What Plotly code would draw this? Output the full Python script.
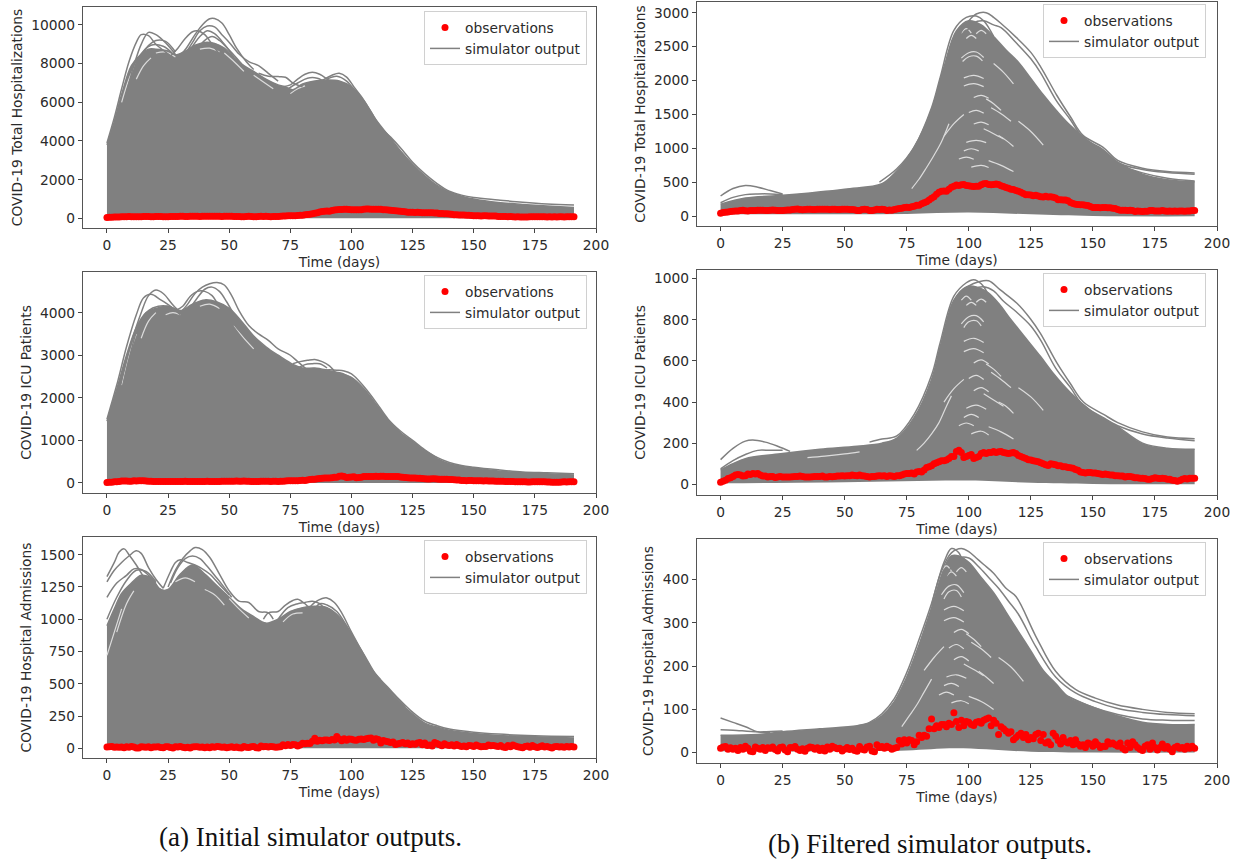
import plotly.graph_objects as go

# ---------- observations, one value per day ----------
days = list(range(192))
obs_total = [45,55,60,65,70,75,78,80,88,90, 82,78,85,88,88,90,90,90,88,88,
 90,92,90,88,88,85,90,95,95,100, 105,108,100,98,102,105,105,102,100,105,
 105,105,103,103,102,105,105,100,102,104, 105,104,100,100,98,85,88,100,105,100,
 85,88,95,105,100,105,100,85,95,90, 100,108,115,120,130,135,130,140,150,165,
 165,185,200,215,240,265,290,325,355,370, 375,370,400,430,445,460,455,465,470,455,
 450,445,440,445,445,465,480,485,470,465, 470,475,470,450,440,425,415,400,395,380,
 370,355,335,320,320,315,305,310,300,290, 285,295,285,290,280,270,245,245,240,240,
 230,205,190,180,175,170,170,165,160,145, 130,130,130,125,130,130,125,125,120,115,
 100,90,90,90,85,90,85,70,80,75, 70,75,75,85,85,80,80,80,85,80,
 75,80,75,80,75,80,80,75,80,80, 85,85]
obs_icu = [10,15,20,28,32,38,45,48,45,40, 42,50,48,52,50,52,45,40,40,35,
 38,38,33,35,38,36,35,36,36,37, 38,38,40,38,36,35,36,37,38,38,
 38,40,36,36,38,37,38,40,40,42, 40,42,42,45,43,42,45,42,40,38,
 36,38,38,40,42,40,42,38,42,40, 38,42,42,45,50,52,52,55,50,60,
 62,60,70,82,85,90,100,105,110,115, 115,118,125,135,135,160,165,155,130,135,
 140,145,125,130,135,150,155,150,155,155, 160,155,158,160,155,152,150,152,155,150,
 140,135,130,125,120,118,115,112,110,105, 100,95,92,100,98,95,90,90,85,85,
 82,80,78,72,68,60,58,55,58,58, 55,55,52,50,48,50,48,45,45,42,
 42,40,40,36,38,38,35,32,32,30, 30,28,25,25,28,32,30,28,30,28,
 25,25,20,18,15,18,25,28,26,30, 30,30]
obs_adm = [10,13,14,8,11,8,10,5,12,8, 15,10,3,2,13,10,8,12,5,11,
 10,13,7,4,12,13,6,2,12,11, 14,8,5,9,3,10,13,12,8,11,
 5,10,4,13,8,15,12,9,10,4, 8,12,7,10,5,3,14,8,6,13,
 15,4,2,18,12,14,10,15,12,8, 10,12,28,20,30,22,30,28,18,25,
 40,35,40,38,55,78,55,62,58,65, 65,60,68,65,92,72,58,75,62,72,
 70,65,63,70,72,68,75,78,80,62, 75,68,42,60,55,50,45,48,30,35,
 40,45,35,42,30,35,32,42,45,28, 42,22,25,18,45,38,28,20,35,25,
 22,28,18,30,20,15,18,12,22,20, 15,25,18,12,15,14,25,20,22,18,
 15,22,10,6,22,12,25,18,12,8, 5,15,18,8,22,12,6,12,20,10,
 14,8,2,12,15,10,12,8,15,10, 15,10]

# ---------- simulator ensemble: dense body outline + individually visible runs ----------
flat_low = ([0,191],[0,0])

L1_core_x = [0,3,6,10,14,17,20,25,28,32,36,40,44,48,52,56,60,65,70,73,76,80,85,90,95,100,105,110,115,120,125,130,135,140,145,150,160,170,180,191]
L1_core_y = [3800,5000,6400,7900,8500,8750,8750,8650,8450,8650,8950,9100,9050,8800,8300,7900,7600,7200,6900,6800,6650,6950,7100,7150,7100,6800,6100,5100,4300,3500,2800,2200,1700,1350,1150,1000,820,720,640,560]
L1_runs = [
 ([0,3,6,9,12,14,17,20,24,28],[3900,5200,6700,8100,9100,9500,9450,9000,8600,8200]),
 ([2,5,8,11,14,17,20,23,26,29],[3500,4900,6500,7900,9000,9620,9500,9200,8800,8300]),
 ([3,8,12,16,20,24,28],[3500,6000,7900,8800,9200,9150,8600]),
 ([5,9,13,18,23,27],[4800,6800,8300,8950,8900,8500]),
 ([26,29,32,35,37,40,43,46,50],[8400,8800,9300,9650,9700,9500,9000,8500,8000]),
 ([30,33,36,39,42,44,47,50,53,57,60],[8400,8900,9500,10000,10320,10330,10100,9500,8800,8100,7700]),
 ([32,35,38,41,44,47,50,54,58,62,66,70],[8500,9100,9700,9950,9900,9500,9100,8500,8100,7900,7500,7100]),
 ([34,38,41,44,48,52],[8700,9400,9700,9550,9000,8300]),
 ([36,40,43,46,50,55],[8600,9200,9400,9200,8700,8000]),
 ([62,66,70,73,76,80],[7500,7350,7330,7300,7000,6800]),
 ([72,75,78,81,84,87,90,93],[6800,6900,7200,7450,7550,7450,7200,6900]),
 ([74,78,82,86,90],[6700,7000,7250,7250,7000]),
 ([86,89,92,95,98,101,104,108,112,116,120,125,130,135,140,145,150,160,170,180,191],[7000,7200,7400,7500,7300,6800,6300,5500,4700,4200,3650,2900,2300,1800,1400,1200,1080,950,830,740,690]),
 ([90,94,98,102,106,110,114,118,122,126,130],[7200,7350,7100,6500,5800,5000,4300,3600,3000,2500,2050]),
]
L1_gaps = [([6,9,12],[6000,7200,8000]),([12,15,18],[7200,7900,8300]),([20,24,28],[8550,8600,8350]),
 ([38,42,46],[8750,8800,8600]),([48,52,56],[8550,8100,7600]),([60,64,68],[7400,7050,6700]),([75,78,81],[6450,6700,6850])]

L2_core_x = [0,4,8,12,16,20,25,30,35,40,45,50,55,60,65,70,75,80,85,90,95,100,105,110,115,120,125,130,135,140,145,150,160,170,180,191]
L2_core_y = [1450,2200,3000,3650,4000,4100,4150,4050,4200,4300,4250,4100,3800,3450,3200,3000,2820,2700,2700,2650,2580,2480,2220,1850,1470,1180,950,740,570,450,390,350,280,240,220,190]
L2_runs = [
 ([0,4,8,12,15,18,22,26,30],[1500,2300,3200,3950,4350,4430,4300,4150,3950]),
 ([2,6,10,14,17,20,23,27,31],[1500,2400,3300,4000,4400,4530,4450,4180,3950]),
 ([4,9,13,17,21,25,29],[1600,2900,3700,4050,4150,4150,4050]),
 ([28,31,34,37,40,43,46,49,53,57],[4050,4150,4380,4500,4500,4400,4150,3950,3650,3400]),
 ([30,33,36,39,42,45,48,51,54,58,62,66,70,75,78,82],[4000,4200,4450,4600,4680,4710,4650,4400,4050,3700,3500,3350,3150,3000,2850,2650]),
 ([34,37,40,43,46,49,53,57],[4100,4350,4550,4600,4500,4250,3850,3500]),
 ([76,79,82,85,88,91,94],[2800,2850,2880,2900,2850,2750,2550]),
 ([78,81,84,87,90],[2700,2780,2800,2800,2700]),
 ([88,91,94,97,100,103,106,110,115,120,125,130,135,140,145,150,160,170,180,191],[2650,2660,2650,2630,2560,2400,2200,1900,1500,1220,1000,780,600,480,410,370,310,260,240,220]),
 ([92,96,100,104,108,112,116,120,125,130,135],[2600,2580,2450,2250,1980,1680,1400,1180,970,760,590]),
]
L2_gaps = [([6,9,12],[2300,3000,3500]),([14,17,20],[3400,3800,4000]),([24,27,30],[3950,4000,3950]),
 ([38,42,46],[4150,4200,4100]),([52,56,60],[3700,3400,3150])]

L3_core_x = [0,3,6,10,14,18,22,25,30,35,40,45,50,55,60,65,70,75,80,85,90,95,100,105,110,115,120,125,130,135,140,150,160,175,191]
L3_core_y = [950,1080,1200,1280,1340,1320,1230,1230,1350,1420,1350,1260,1170,1080,1020,970,1000,1060,1090,1100,1090,1020,880,730,570,450,350,265,195,165,140,115,100,90,80]
L3_runs = [
 ([0,3,5,7,9,12,15,18,22],[1330,1440,1520,1545,1500,1420,1330,1270,1230]),
 ([0,3,6,9,12,14,17,20,23],[1290,1380,1440,1490,1530,1510,1400,1310,1240]),
 ([0,4,8,11,14,17,20],[1170,1280,1340,1390,1385,1340,1280]),
 ([0,4,8,12,16,20],[1000,1170,1300,1380,1370,1290]),
 ([23,26,28,30,33,36,39,42,46,50],[1240,1370,1440,1460,1440,1420,1390,1350,1270,1190]),
 ([25,28,31,34,36,39,42,46,50,54,58,62,66,68],[1250,1380,1470,1530,1555,1540,1480,1350,1220,1140,1130,1060,1050,1000]),
 ([26,29,32,35,38,41,44,47,51],[1280,1400,1470,1490,1470,1410,1340,1270,1170]),
 ([64,66,70,73,76,78,81,84,87],[1000,1050,1060,1110,1145,1155,1120,1060,1000]),
 ([70,74,78,81,84,87,90,93],[1000,1090,1120,1130,1140,1120,1060,1000]),
 ([82,85,88,90,93,96,100,104,108,112,116,120,125,130,135,140,150,160,175,191],[1070,1130,1160,1165,1130,1050,900,760,620,530,450,370,280,210,175,150,125,110,98,92]),
 ([84,87,90,94,98,102,106,110,114,118,122],[1050,1120,1110,1060,950,820,680,560,480,400,320]),
]
L3_gaps = [([0,3,6],[720,900,1080]),([4,8,11],[900,1120,1220]),([28,32,36],[1290,1320,1290]),
 ([40,44,48],[1230,1190,1110]),([50,54,58],[1160,1080,1010]),([72,76,80],[980,1040,1050])]

R1_low_x = [0,25,50,75,100,125,150,191]
R1_low_y = [30,30,30,35,55,30,5,0]
R1_core_x = [0,10,25,50,65,70,75,80,85,90,95,100,105,110,115,120,125,130,135,140,150,155,160,170,180,191]
R1_core_y = [180,270,310,400,480,630,850,1150,1570,2200,2730,2880,2820,2650,2450,2270,2030,1790,1570,1370,1060,950,800,620,540,510]
R1_runs = [
 ([64,71,78,85,88.5,94,99,103,106,110],[505,700,1020,1600,2050,2740,2930,2950,2880,2650]),
 ([92,96,100,103,107,110,113,119,125,129,135.5,141,146,154,160,170,180,191],[2300,2650,2880,2980,3000,2930,2840,2640,2415,2199,1780,1463,1193,1020,825,710,660,640]),
 ([94,98,102,106,110,113,119,125,129,135,141,146,154,160,170,180,191],[2300,2650,2850,2880,2820,2780,2560,2320,2110,1720,1420,1160,985,790,690,645,620]),
 ([0,5,10,15,20,25],[300,410,455,430,380,330]),
 ([0,5,10,15,20,25],[200,280,320,330,330,320]),
 ([150,160,170,180,191],[960,760,640,560,520]),
]
R1_gaps = [
 ([77,80,83,86,89,92],[410,550,720,900,1100,1365]),
 ([97,100,103,106],[2330,2410,2420,2340]),([97.5,100,103,105.5],[2280,2350,2360,2290]),
 ([97,99,101],[2700,2764,2700]),([99,101,103],[2620,2666,2620]),([103,105,107],[2690,2740,2690]),
 ([98,102,106],[2040,2077,2030]),([98,102,106],[1920,1954,1910]),([102,105,108],[1750,1782,1740]),
 ([107,110,113],[1730,1660,1560]),([100,103,106],[1530,1561,1520]),([109,113,117],[1600,1512,1400]),
 ([102,105,108],[1360,1389,1350]),([106,110,114],[1290,1218,1140]),([99,103,107],[1090,1119,1085]),
 ([98,101,104],[965,996,965]),([101,105,108],[725,751,720]),([108,113,118],[820,751,660]),
 ([96,99,102],[845,873,840]),([112,115,118],[1190,1119,1030]),([90,94,98],[1180,1365,1500]),
 ([120,125,130],[1400,1250,1050]),([110,114,118],[2250,2120,1950]),
]

R2_low_x = [0,50,100,125,150,191]
R2_low_y = [5,10,18,8,2,0]
R2_core_x = [0,5,10,25,40,55,65,71,78,85,88.5,94,99,103,108,112,117,122,129,134,141,149,154,160,170,180,191]
R2_core_y = [70,100,125,150,170,185,200,225,325,510,670,895,960,960,930,880,800,725,620,540,445,360,320,280,200,175,170]
R2_runs = [
 ([60,65,71,78,85,88.5,94,99,102,105,108,111],[205,220,235,340,530,690,915,980,995,975,920,830]),
 ([92,96,100,104,108,112.7,119.4,124.8,128.8,135.5,140.9,146.2,154.3,160,170,180,191],[840,925,965,985,990,945,880,805,735,590,490,400,340,300,255,230,222]),
 ([94,98,102,106,110,114,119,125,129,135,141,146,154,160,170,180,191],[860,920,950,960,940,890,840,770,700,565,470,385,325,285,245,225,212]),
 ([0,5,10,13,18,23,28],[120,175,210,215,205,185,160]),
 ([0,5,10,15,20,25],[75,115,145,165,165,165]),
]
R2_gaps = [
 ([79,82,85,88,91,93],[165,200,245,300,380,430]),
 ([97,100,103,106],[780,815,820,790]),([98,100,103,105],[762,790,795,770]),
 ([97,99,101],[895,915,895]),([99,101,103],[870,885,870]),([103,105,107],[885,900,885]),
 ([98,102,106],[695,710,690]),([98,102,106],[645,660,640]),([102,105,108],[590,605,585]),
 ([107,110,113],[585,560,525]),([100,103,106],[515,530,510]),([109,113,117],[545,510,470]),
 ([102,105,108],[455,470,450]),([106,110,114],[440,410,380]),([99,103,107],[370,385,365]),
 ([98,101,104],[325,340,325]),([101,105,108],[245,258,240]),([108,113,118],[280,255,220]),
 ([96,99,102],[285,298,285]),([112,115,118],[400,380,345]),([90,94,98],[400,465,510]),
 ([120,125,130],[470,425,360]),([35,42,50,56],[130,137,148,158]),
]

R3_low_x = [0,50,75,95,125,150,191]
R3_low_y = [3,3,5,10,2,0,0]
R3_core_x = [0,15,25,40,55,60,65,70,75,80,85,90,93,96,100,105,110,115,120,125,130,135,140,150,160,170,180,191]
R3_core_y = [40,42,48,55,62,68,85,118,175,250,335,425,455,455,440,405,370,325,280,235,190,160,130,105,85,70,65,65]
R3_runs = [
 ([55,60,65,70,75,80,85,90,93,96,98],[62,70,90,125,185,262,345,440,472,462,430]),
 ([85,89,93,97,100,103,106,110,115,119,127,135,143,151,160,170,180,191],[340,420,462,472,465,450,435,415,380,361,269,188,146,126,110,100,93,90]),
 ([88,92,96,100,104,108,112,116,120,127,135,143,151,160,170,180,191],[370,420,450,450,430,405,380,350,320,245,175,138,118,102,93,88,85]),
 ([0,5,10,15,20],[80,70,60,48,46]),
 ([0,5,15,25],[53,52,48,50]),
 ([140,150,160,170,180,191],[130,105,88,78,75,74]),
]
R3_gaps = [
 ([73,76,79,82,85],[60,85,110,140,170]),
 ([89,92,95,98],[365,385,388,370]),([90,92,95,97],[355,372,375,360]),
 ([89,91,93],[420,432,420]),([91,93,95],[408,418,408]),([95,97,99],[418,428,418]),
 ([90,94,98],[330,338,328]),([90,94,98],[305,312,302]),([94,97,100],[278,285,275]),
 ([99,102,105],[275,262,245]),([92,95,98],[242,250,240]),([101,105,109],[255,240,220]),
 ([94,97,100],[215,222,212]),([98,102,106],[205,192,178]),([91,95,99],[175,180,172]),
 ([90,93,96],[155,160,153]),([93,97,100],[115,120,113]),([100,105,110],[130,118,100]),
 ([88,91,94],[133,140,133]),([104,107,110],[188,175,160]),([82,86,90],[190,220,245]),
 ([112,117,122],[220,198,165]),
]

x_ticks = [0,25,50,75,100,125,150,175,200]

panels = [
 dict(px=(83,596), py=(7,228), xr=(-9.8,200), yr=(-500,10930), yt=[0,2000,4000,6000,8000,10000], lab="COVID-19 Total Hospitalizations",
      low=flat_low, core=(L1_core_x,L1_core_y), runs=L1_runs, gaps=L1_gaps, obs=obs_total, leg=(424,11)),
 dict(px=(83,596), py=(272,493), xr=(-9.8,200), yr=(-235,4955), yt=[0,1000,2000,3000,4000], lab="COVID-19 ICU Patients",
      low=flat_low, core=(L2_core_x,L2_core_y), runs=L2_runs, gaps=L2_gaps, obs=obs_icu, leg=(424,275)),
 dict(px=(83,596), py=(537,758), xr=(-9.8,200), yr=(-75,1637), yt=[0,250,500,750,1000,1250,1500], lab="COVID-19 Hospital Admissions",
      low=flat_low, core=(L3_core_x,L3_core_y), runs=L3_runs, gaps=L3_gaps, obs=obs_adm, leg=(424,540)),
 dict(px=(697,1217), py=(2,226), xr=(-9.5,200), yr=(-142,3157), yt=[0,500,1000,1500,2000,2500,3000], lab="COVID-19 Total Hospitalizations",
      low=(R1_low_x,R1_low_y), core=(R1_core_x,R1_core_y), runs=R1_runs, gaps=R1_gaps, obs=obs_total, leg=(1043,4)),
 dict(px=(697,1217), py=(270,495), xr=(-9.5,200), yr=(-52,1042), yt=[0,200,400,600,800,1000], lab="COVID-19 ICU Patients",
      low=(R2_low_x,R2_low_y), core=(R2_core_x,R2_core_y), runs=R2_runs, gaps=R2_gaps, obs=obs_icu, leg=(1043,273)),
 dict(px=(697,1217), py=(539,763), xr=(-9.5,200), yr=(-24,494), yt=[0,100,200,300,400], lab="COVID-19 Hospital Admissions",
      low=(R3_low_x,R3_low_y), core=(R3_core_x,R3_core_y), runs=R3_runs, gaps=R3_gaps, obs=obs_adm, leg=(1043,542)),
]

W, H = 1241, 861
GRAY = "#808080"
TXT = "#2b2b2b"
FONT = "DejaVu Sans"
FS = 13.8
fig = go.Figure()
layout = {}

for i, p in enumerate(panels, start=1):
    s = "" if i == 1 else str(i)
    lname = "legend" + s
    xa, ya = "x" + s, "y" + s
    # lower limit of the ensemble
    fig.add_trace(go.Scatter(x=p["low"][0], y=p["low"][1], xaxis=xa, yaxis=ya, mode="lines",
                             line=dict(color="rgba(0,0,0,0)", width=0, shape="spline"),
                             showlegend=False, hoverinfo="skip"))
    # dense body
    fig.add_trace(go.Scatter(x=p["core"][0], y=p["core"][1], xaxis=xa, yaxis=ya, mode="lines",
                             line=dict(color=GRAY, width=1.5, shape="spline"), fill="tonexty",
                             fillcolor=GRAY, showlegend=False, hoverinfo="skip"))
    # slivers of background between runs
    for gx, gy in p["gaps"]:
        fig.add_trace(go.Scatter(x=gx, y=gy, xaxis=xa, yaxis=ya, mode="lines",
                                 line=dict(color="#dcdcdc", width=1.2, shape="spline"),
                                 showlegend=False, hoverinfo="skip"))
    # individually visible runs
    for j, (rx, ry) in enumerate(p["runs"]):
        fig.add_trace(go.Scatter(x=rx, y=ry, xaxis=xa, yaxis=ya, mode="lines", name="simulator output",
                                 line=dict(color=GRAY, width=1.5, shape="spline"),
                                 legend=lname, showlegend=(j == 0), hoverinfo="skip"))
    # observations
    fig.add_trace(go.Scatter(x=days, y=p["obs"], xaxis=xa, yaxis=ya, mode="markers", name="observations",
                             marker=dict(color="#ff0000", size=7), legend=lname, showlegend=True))

    dom_x = [p["px"][0] / W, p["px"][1] / W]
    dom_y = [1 - p["py"][1] / H, 1 - p["py"][0] / H]
    axis_common = dict(showline=True, mirror=True, linecolor="#555555", linewidth=1.2, showgrid=False,
                       zeroline=False, ticks="outside", ticklen=4, tickwidth=1, tickcolor="#444444",
                       automargin=False, tickfont=dict(family=FONT, size=FS, color=TXT))
    layout["xaxis" + s] = dict(domain=dom_x, range=list(p["xr"]), anchor=ya, tickvals=x_ticks,
                               title=dict(text="Time (days)", standoff=5,
                                          font=dict(family=FONT, size=FS, color=TXT)), **axis_common)
    layout["yaxis" + s] = dict(domain=dom_y, range=list(p["yr"]), anchor=xa, tickvals=p["yt"], tickformat="d",
                               title=dict(text=p["lab"], standoff=5,
                                          font=dict(family=FONT, size=FS, color=TXT)), **axis_common)
    layout[lname] = dict(x=p["leg"][0] / W, y=1 - p["leg"][1] / H, xanchor="left", yanchor="top",
                         bgcolor="rgba(255,255,255,0.85)", bordercolor="#d0d0d0", borderwidth=1,
                         traceorder="reversed", font=dict(family=FONT, size=FS, color=TXT),
                         itemsizing="trace", tracegroupgap=0)

fig.update_layout(width=W, height=H, margin=dict(l=0, r=0, t=0, b=0), autosize=False,
                  paper_bgcolor="white", plot_bgcolor="white", **layout)

fig.add_annotation(text="(a) Initial simulator outputs.", xref="paper", yref="paper",
                   x=310 / W, y=1 - 837 / H, xanchor="center", yanchor="middle", showarrow=False,
                   font=dict(family="Liberation Serif", size=27, color="#111111"))
fig.add_annotation(text="(b) Filtered simulator outputs.", xref="paper", yref="paper",
                   x=930 / W, y=1 - 844 / H, xanchor="center", yanchor="middle", showarrow=False,
                   font=dict(family="Liberation Serif", size=27, color="#111111"))

fig.write_html("out.html", post_script="document.body.style.margin='0';",
               config={"displayModeBar": False})
